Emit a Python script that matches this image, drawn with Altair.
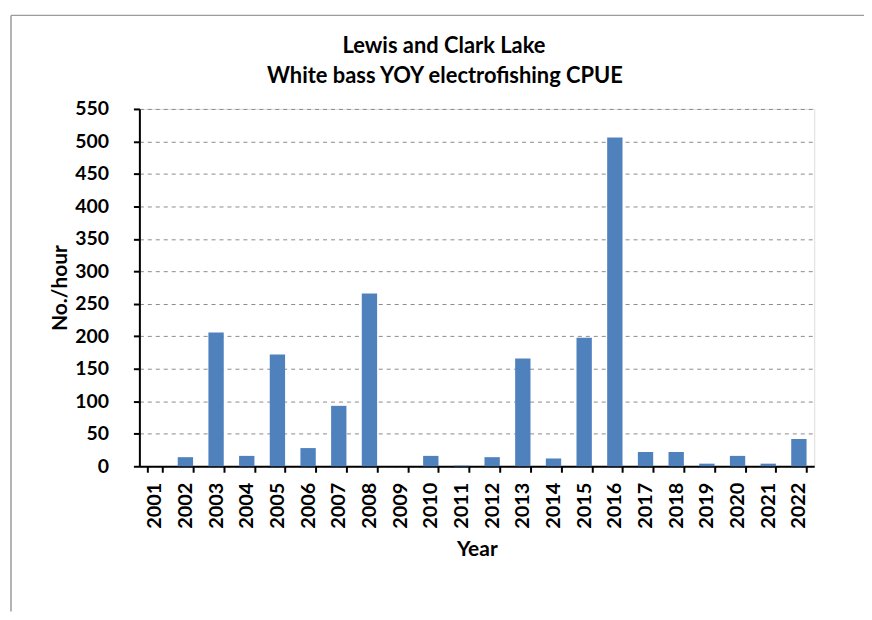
import altair as alt
import pandas as pd

years = [str(y) for y in range(2001, 2023)]
cpue = [0, 14, 206, 16, 172, 28, 93, 266, 0, 16, 1, 14, 166, 12, 198, 506, 22, 22, 4, 16, 4, 42]
title_lines = ["Lewis and Clark Lake", "White bass YOY electrofishing CPUE"]

df = pd.DataFrame({"Year": years, "CPUE": cpue})

FONT = "Lato"

bars = alt.Chart(df).mark_bar(color="#4F81BD").encode(
    x=alt.X("Year:N", sort=years,
            scale=alt.Scale(paddingInner=0.5, paddingOuter=0.25),
            axis=alt.Axis(title="Year", labelAngle=-90, tickBand="extent",
                          labelFont=FONT, labelFontSize=20, labelFontWeight="bold",
                          labelColor="black", labelPadding=10,
                          titleFont=FONT, titleFontSize=21, titleFontWeight="bold",
                          titleColor="black", titlePadding=10,
                          domainColor="black", domainWidth=2,
                          tickColor="black", tickWidth=2, tickSize=6, grid=False)),
    y=alt.Y("CPUE:Q",
            scale=alt.Scale(domain=[0, 550], nice=False),
            axis=alt.Axis(title="No./hour", values=list(range(0, 551, 50)),
                          labelFont=FONT, labelFontSize=19.5, labelFontWeight="bold",
                          labelColor="black", labelPadding=25,
                          titleFont=FONT, titleFontSize=21, titleFontWeight="bold",
                          titleColor="black", titlePadding=4,
                          domainColor="black", domainWidth=2,
                          tickColor="black", tickWidth=2, tickSize=6,
                          grid=True, gridColor="#8a8a8a", gridDash=[4, 4],
                          gridWidth=1)),
)

frame_df = pd.DataFrame({"k": [0]})
frame_left = alt.Chart(frame_df).mark_rule(color="#9a9a9a", strokeWidth=1.5).encode(
    x=alt.value(-129), y=alt.value(-94), y2=alt.value(505))
frame_top = alt.Chart(frame_df).mark_rule(color="#9a9a9a", strokeWidth=1.5).encode(
    x=alt.value(-129), x2=alt.value(730), y=alt.value(-94))

title1 = alt.Chart(pd.DataFrame({"t": [title_lines[0]]})).mark_text(
    font=FONT, fontSize=22, fontWeight="bold", color="black",
    align="center", baseline="middle").encode(
    text="t:N", x=alt.value(306), y=alt.value(-63))
title2 = alt.Chart(pd.DataFrame({"t": [title_lines[1]]})).mark_text(
    font=FONT, fontSize=22, fontWeight="bold", color="black",
    align="center", baseline="middle").encode(
    text="t:N", x=alt.value(307), y=alt.value(-33))

chart = alt.layer(frame_left, frame_top, title1, title2, bars).properties(
    width=678, height=359,
    autosize=alt.AutoSizeParams(type="none"),
    padding={"left": 132, "top": 100, "right": 50, "bottom": 145},
).configure_view(stroke=None).configure(background="white")

chart.save("out.html", embed_options={"renderer": "svg", "actions": False})
